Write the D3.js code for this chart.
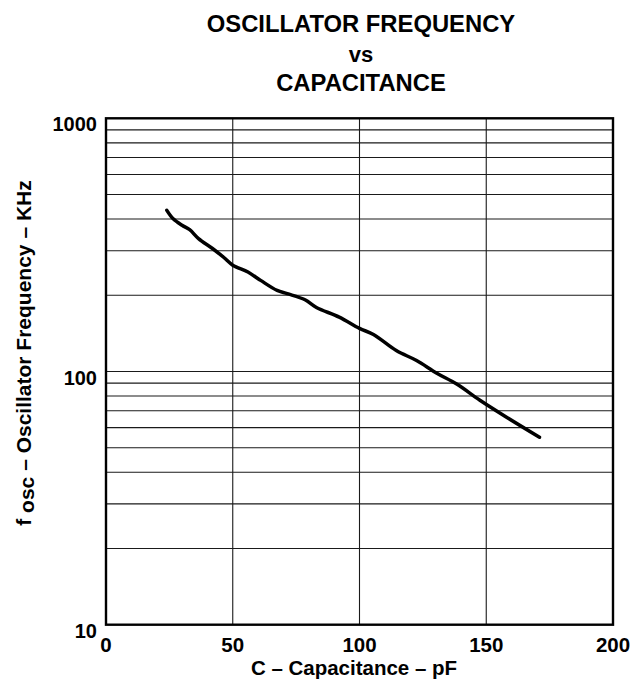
<!DOCTYPE html>
<html><head><meta charset="utf-8">
<script src="https://cdn.jsdelivr.net/npm/d3@7"></script>
<style>
html,body{margin:0;padding:0;background:#fff;}
text{font-family:"Liberation Sans",Arial,Helvetica,sans-serif;font-weight:bold;fill:#000;}
</style></head>
<body>
<svg id="chart" width="636" height="684"></svg>
<script>
const capacitance = [24, 26.5, 30, 33, 36.5, 42, 46.5, 50, 56, 61, 67.5, 71.5, 78.5, 83, 92, 100, 105.5, 114.5, 122.5, 130.5, 138.5, 147.5, 158, 171];
const frequency   = [433, 401, 378, 363, 335, 306, 282, 263, 247, 229, 209, 203, 192, 179, 164, 148, 140, 121, 110.5, 98.5, 89, 77, 66, 55];
const xTicks = [0, 50, 100, 150, 200];
const yLabelTicks = [10, 100, 1000];
const yGrid = [20,30,40,50,60,70,80,90,100,200,300,400,500,600,700,800,900];
const titleLines = ["OSCILLATOR FREQUENCY", "vs", "CAPACITANCE"];

const svg = d3.select("#chart");
const L = 106, R = 613, T = 118.3, B = 624.7;
const x = d3.scaleLinear().domain([0, 200]).range([L, R]);
const y = d3.scaleLog().domain([10, 1000]).range([B, T]);

// grid
const g = svg.append("g");
g.selectAll("line.h").data(yGrid).enter().append("line")
  .attr("x1", L).attr("x2", R)
  .attr("y1", d => y(d)).attr("y2", d => y(d))
  .attr("stroke", "#1a1a1a").attr("stroke-width", 1.1);
g.selectAll("line.v").data(xTicks.slice(1, -1)).enter().append("line")
  .attr("y1", T).attr("y2", B)
  .attr("x1", d => x(d)).attr("x2", d => x(d))
  .attr("stroke", "#1a1a1a").attr("stroke-width", 1.1);

// frame
svg.append("rect").attr("x", L).attr("y", T).attr("width", R - L).attr("height", B - T)
  .attr("fill", "none").attr("stroke", "#000").attr("stroke-width", 2.4);

// curve
const pts = capacitance.map((c, i) => [c, frequency[i]]);
svg.append("path").datum(pts)
  .attr("d", d3.line().x(d => x(d[0])).y(d => y(d[1])).curve(d3.curveCatmullRom))
  .attr("fill", "none").attr("stroke", "#000").attr("stroke-width", 3.5)
  .attr("stroke-linecap", "round").attr("stroke-linejoin", "round");

// x tick labels
svg.selectAll("text.xt").data(xTicks).enter().append("text")
  .attr("x", d => x(d)).attr("y", 651.5)
  .attr("text-anchor", "middle").attr("font-size", 20.5)
  .text(d => d);

// y tick labels
svg.selectAll("text.yt").data(yLabelTicks).enter().append("text")
  .attr("x", 97).attr("y", d => y(d) + 13)
  .attr("text-anchor", "end").attr("font-size", 20)
  .text(d => d);

// title
svg.selectAll("text.title").data(titleLines).enter().append("text")
  .attr("x", 361).attr("y", (d, i) => [31.5, 61.5, 90.5][i])
  .attr("text-anchor", "middle").attr("font-size", d => d === "vs" ? 22 : 23.8)
  .text(d => d);

// x axis title
svg.append("text").attr("x", 354).attr("y", 674.5)
  .attr("text-anchor", "middle").attr("font-size", 20.5)
  .text("C – Capacitance – pF");

// y axis title
const yt = svg.append("text")
  .attr("transform", "translate(31,353) rotate(-90)")
  .attr("text-anchor", "middle").attr("font-size", 21);
yt.append("tspan").text("f ");
yt.append("tspan").attr("dy", 3).text("osc");
yt.append("tspan").attr("dy", -3).text(" – Oscillator Frequency – KHz");
</script>
</body></html>
